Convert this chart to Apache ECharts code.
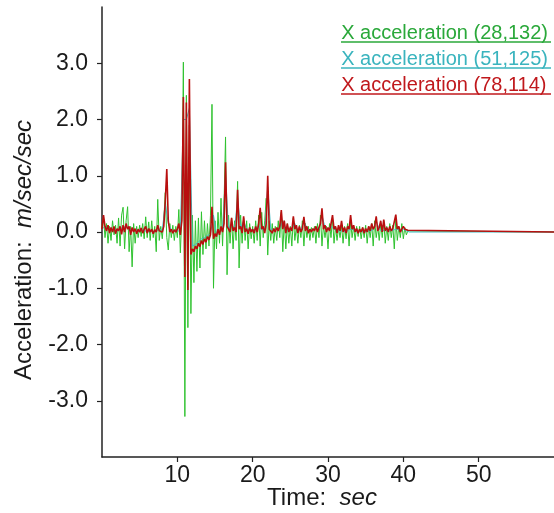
<!DOCTYPE html>
<html>
<head>
<meta charset="utf-8">
<script src="https://cdn.jsdelivr.net/npm/echarts@6/dist/echarts.min.js"></script>
<style>
html,body{margin:0;padding:0;background:#fff;}
#chart{width:554px;height:513px;}
</style>
</head>
<body>
<div id="chart"></div>
<script>
// ---- data ----
var seriesNames = ['X acceleration (28,132)', 'X acceleration (51,125)', 'X acceleration (78,114)'];
var sampleStep = 0.2;       // seconds between samples (green & red)
var cyanStep = 0.4;         // seconds between samples (cyan)
var quietTime = 60;         // signal stays at 0 until this time
var quietValue = 0;

var greenValues = [
  0.1, 0.25, -0.1, 0.15, -0.2, 0.1, -0.15, 0.2, -0.05, 0.12,
  -0.2, 0.25, -0.25, 0.3, 0.44, -0.3, 0.2, 0.45, -0.35, 0.1,
  -0.62, 0.15, -0.2, 0.1, -0.1, 0.12, -0.08, 0.15, -0.12, 0.27,
  -0.1, 0.18, -0.15, 0.2, -0.1, 0.1, -0.35, 0.58, -0.15, 0.1,
  -0.12, 0.2, 0.7, -0.1, -0.32, 0.15, -0.1, 0.12, -0.15, 0.1,
  -0.1, 0.4, -0.37, 0.3, 3.02, -3.28, 2.43, -1.7, 1.9, -1.45,
  0.3, -0.9, 0.2, -0.7, 0.25, -0.64, 0.36, -0.4, 0.2, -0.3,
  0.15, -0.25, 0.3, 2.27, -1.0, 0.2, -0.3, 0.35, -0.2, 0.6,
  -0.25, 0.5, 1.69, -0.76, 0.3, -0.2, 0.25, -0.3, 0.2, -0.15,
  0.9, -0.64, 0.3, -0.2, 0.25, -0.15, 0.2, -0.3, 0.15, -0.12,
  0.1, -0.2, 0.2, -0.15, 0.3, -0.25, 0.35, -0.1, 0.2, 0.6,
  -0.41, 0.2, -0.15, 0.15, -0.2, 0.1, -0.15, 0.2, -0.1, 0.35,
  -0.35, 0.2, -0.3, 0.15, -0.2, 0.1, -0.25, 0.25, -0.15, 0.1,
  -0.2, 0.12, -0.1, 0.2, -0.25, 0.15, -0.1, 0.1, -0.15, 0.08,
  -0.1, 0.1, -0.2, 0.15, -0.1, 0.3, -0.25, 0.12, -0.1, 0.1,
  -0.3, 0.15, -0.1, 0.25, -0.2, 0.1, -0.15, 0.08, -0.1, 0.12,
  -0.2, 0.1, -0.12, 0.15, -0.25, 0.2, -0.1, 0.1, -0.15, 0.1,
  -0.08, 0.1, -0.12, 0.08, -0.1, 0.12, -0.2, 0.1, -0.1, 0.15,
  -0.25, 0.2, -0.1, 0.1, -0.15, 0.15, -0.1, 0.2, -0.2, 0.1,
  -0.15, 0.15, -0.1, 0.12, -0.3, 0.25, -0.15, 0.1, -0.1, 0.15,
  -0.12, 0.08, -0.05, 0.02, 0
];

var cyanValues = [
  0.05, 0.1, 0.05, 0.04, 0.06, 0.02, 0.06, 0.08, 0.1, 0.05,
  0.04, 0.03, 0.03, 0.04, 0.03, 0.0, 0.02, 0.0, 0.02, 0.05,
  0.03, 0.5, 0.15, 0.03, 0.02, 0.03, 0.0, 2.0, 2.0, 2.2,
  -0.25, -0.22, -0.18, -0.12, -0.1, -0.06, -0.04, 0.3, -0.05, 0.0,
  0.05, 1.0, 0.05, 0.15, 0.04, 0.6, 0.06, 0.2, 0.03, 0.05,
  0.03, 0.06, 0.1, 0.05, 0.02, 0.8, 0.05, 0.04, 0.05, 0.06,
  0.2, 0.02, 0.03, 0.05, 0.15, 0.02, 0.03, 0.2, 0.06, 0.03,
  0.04, 0.06, 0.05, 0.3, 0.08, 0.05, 0.1, 0.05, 0.02, 0.02,
  0.02, 0.0, 0.04, 0.05, 0.02, 0.0, 0.02, 0.0, 0.02, 0.02,
  0.04, 0.2, 0.05, 0.02, 0.04, 0.02, 0.03, 0.04, 0.05, 0.02,
  0.05, 0.02, 0.0
];

var redValues = [
  0.05, 0.3, 0.1, 0.02, 0.12, -0.02, 0.08, 0.0, 0.1, -0.03,
  0.06, 0.02, 0.1, -0.04, 0.12, 0.0, 0.15, 0.05, 0.1, -0.05,
  0.08, 0.0, 0.06, -0.03, 0.05, 0.0, 0.07, -0.02, 0.05, 0.1,
  -0.02, 0.06, 0.0, 0.05, -0.03, 0.04, 0.0, 0.12, 0.02, 0.05,
  0.0, 0.1, 0.55, 1.12, 0.2, 0.0, 0.05, -0.02, 0.04, 0.0,
  0.05, 0.15, -0.05, 0.2, 2.4, -0.8, 2.3, -1.03, 2.72, -0.4,
  -0.3, -0.35, -0.25, -0.3, -0.2, -0.26, -0.15, -0.22, -0.12, -0.18,
  -0.08, -0.14, -0.05, 0.45, -0.12, -0.03, -0.08, 0.05, -0.05, 0.1,
  0.0, 0.15, 1.24, 0.1, 0.05, 0.0, 0.25, 0.02, 0.08, 0.0,
  0.75, 0.05, 0.1, -0.02, 0.28, 0.0, 0.06, -0.03, 0.08, 0.0,
  0.05, -0.02, 0.1, 0.0, 0.15, 0.43, 0.05, 0.1, -0.02, 0.15,
  1.0, 0.05, 0.08, -0.02, 0.06, 0.0, 0.08, 0.02, 0.1, 0.39,
  0.05, 0.2, -0.02, 0.15, 0.0, 0.08, 0.02, 0.28, 0.05, 0.12,
  -0.02, 0.1, 0.0, 0.06, 0.27, 0.02, 0.1, -0.02, 0.05, 0.0,
  0.06, 0.02, 0.1, 0.0, 0.08, 0.15, 0.42, 0.05, 0.12, 0.0,
  0.08, 0.02, 0.15, 0.3, 0.05, 0.1, -0.02, 0.12, 0.02, 0.2,
  0.0, 0.08, -0.02, 0.1, 0.05, 0.3, 0.05, 0.12, 0.0, 0.06,
  -0.02, 0.05, 0.0, 0.08, -0.02, 0.06, 0.0, 0.1, 0.02, 0.15,
  0.05, 0.1, 0.28, 0.02, 0.08, 0.2, 0.0, 0.22, 0.02, 0.08,
  0.0, 0.1, 0.02, 0.06, 0.05, 0.31, 0.05, 0.1, 0.0, 0.05,
  0.1, 0.05, 0.08, 0.03, 0.0
];

var xTicks = [10, 20, 30, 40, 50];
var yTicks = [-3, -2, -1, 0, 1, 2, 3];

// ---- build ----
function toPairs(values, step) {
  var out = values.map(function (v, i) { return [+(i * step).toFixed(2), v]; });
  out.push([quietTime, quietValue]);
  return out;
}

var colors = {
  green: '#2fc22f', greenText: '#2aa83a',
  cyan: '#40bcc4', cyanText: '#3ab4be',
  red: '#b80f0f', redText: '#c0181c'
};
var FONT = 'Liberation Sans, Arial, sans-serif';

var chart = echarts.init(document.getElementById('chart'), null, {renderer: 'canvas'});
chart.setOption({
  animation: false,
  backgroundColor: '#fff',
  grid: {left: 102, right: -2, top: 7, bottom: 56, containLabel: false},
  legend: {
    orient: 'vertical',
    right: 1,
    top: 17,
    icon: 'none',
    itemWidth: 0,
    itemHeight: 14,
    itemGap: 4,
    selectedMode: false,
    align: 'left',
    textStyle: {fontFamily: FONT, fontSize: 20, lineHeight: 22},
    data: [
      {name: seriesNames[0], textStyle: {color: colors.greenText}},
      {name: seriesNames[1], textStyle: {color: colors.cyanText}},
      {name: seriesNames[2], textStyle: {color: colors.redText}}
    ]
  },
  xAxis: {
    type: 'value', min: 0, max: 60,
    axisLine: {show: true, onZero: false, lineStyle: {color: '#222', width: 1.5}},
    axisTick: {show: true, length: 5, customValues: xTicks, lineStyle: {color: '#222', width: 1.2}},
    axisLabel: {customValues: xTicks, color: '#1a1a1a', fontFamily: FONT, fontSize: 23, margin: 7},
    splitLine: {show: false}
  },
  yAxis: {
    type: 'value', min: -4, max: 4,
    axisLine: {show: true, onZero: false, lineStyle: {color: '#222', width: 1.5}},
    axisTick: {show: true, length: 5, customValues: yTicks, lineStyle: {color: '#222', width: 1.2}},
    axisLabel: {customValues: yTicks, color: '#1a1a1a', fontFamily: FONT, fontSize: 23, margin: 14,
      formatter: function (v) { return v.toFixed(1); }},
    splitLine: {show: false}
  },
  series: [
    {name: seriesNames[0], type: 'line', showSymbol: false, sampling: null,
      data: toPairs(greenValues, sampleStep), lineStyle: {color: colors.green, width: 1}, itemStyle: {color: colors.green}, z: 2},
    {name: seriesNames[1], type: 'line', showSymbol: false,
      data: toPairs(cyanValues, cyanStep), lineStyle: {color: colors.cyan, width: 1}, itemStyle: {color: colors.cyan}, z: 3},
    {name: seriesNames[2], type: 'line', showSymbol: false,
      data: toPairs(redValues, sampleStep), lineStyle: {color: colors.red, width: 1.6}, itemStyle: {color: colors.red}, z: 4}
  ],
  graphic: [
    {type: 'text', x: 24, y: 250, rotation: Math.PI / 2,
      style: {text: '{n|Acceleration:  }{i|m/sec/sec}', align: 'center', verticalAlign: 'middle',
        rich: {n: {fontFamily: FONT, fontSize: 24, fill: '#1a1a1a'}, i: {fontFamily: FONT, fontSize: 24, fontStyle: 'italic', fill: '#1a1a1a'}}}},
    {type: 'text', x: 322, y: 498,
      style: {text: '{n|Time:  }{i|sec}', align: 'center', verticalAlign: 'middle',
        rich: {n: {fontFamily: FONT, fontSize: 24, fill: '#1a1a1a'}, i: {fontFamily: FONT, fontSize: 24, fontStyle: 'italic', fill: '#1a1a1a'}}}},
    {type: 'line', shape: {x1: 341, y1: 42, x2: 551, y2: 42}, style: {stroke: colors.greenText, lineWidth: 1.5}},
    {type: 'line', shape: {x1: 341, y1: 68, x2: 551, y2: 68}, style: {stroke: colors.cyanText, lineWidth: 1.5}},
    {type: 'line', shape: {x1: 341, y1: 94, x2: 551, y2: 94}, style: {stroke: colors.redText, lineWidth: 1.5}}
  ]
});
</script>
</body>
</html>
